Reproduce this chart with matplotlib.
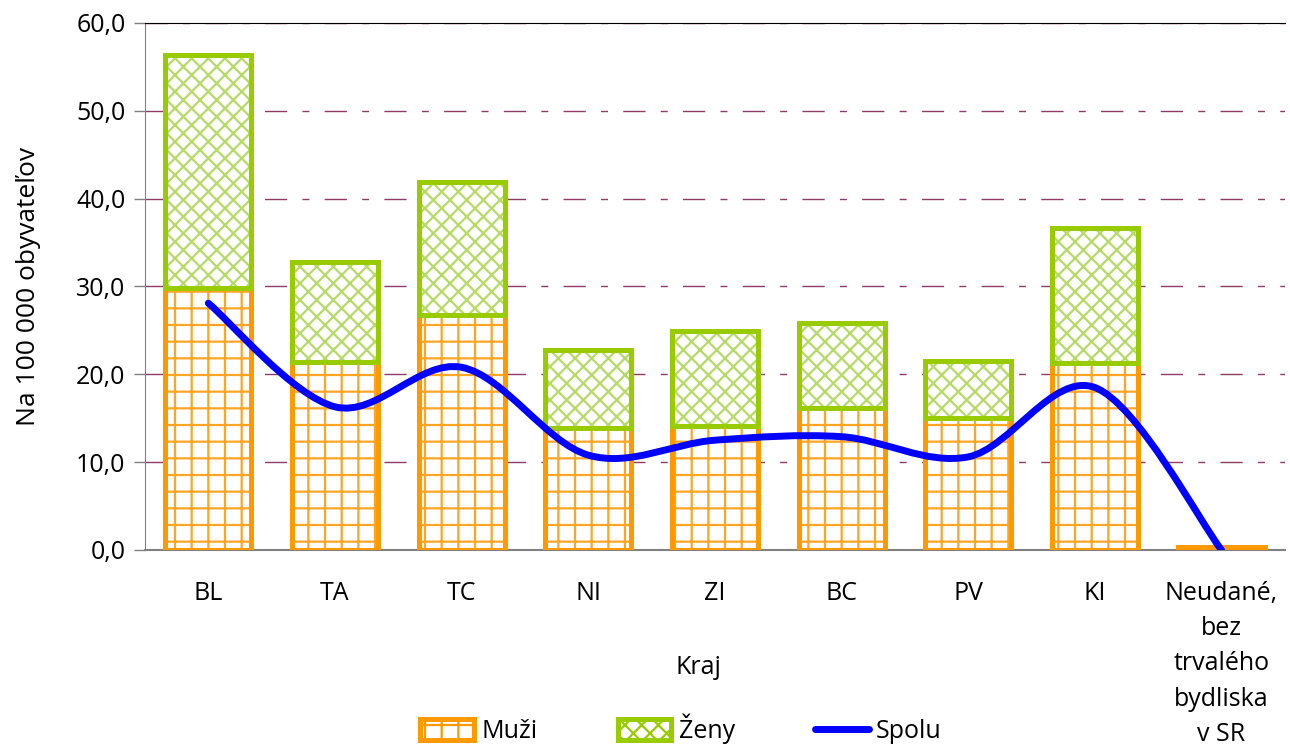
import numpy as np
import matplotlib
matplotlib.use("Agg")
import matplotlib.pyplot as plt
from matplotlib.path import Path
from matplotlib.patches import PathPatch, Patch
from matplotlib.lines import Line2D

plt.rcParams['font.family'] = ['Open Sans', 'DejaVu Sans']
plt.rcParams['hatch.linewidth'] = 1.6

# data
kraje = ["BL", "TA", "TC", "NI", "ZI", "BC", "PV", "KI",
         "Neudané,\nbez\ntrvalého\nbydliska\nv SR"]
muzi = [29.8, 21.4, 26.8, 13.9, 14.1, 16.2, 15.0, 21.3, 0.3]
zeny = [26.6, 11.4, 15.1, 8.9, 10.8, 9.6, 6.5, 15.4, 0.0]
spolu = [28.1, 16.3, 20.8, 10.8, 12.5, 12.9, 10.6, 18.5, 0.0]

ORANGE = "#FF9900"
ORANGE_H = "#FFA526"
GREEN = "#99CC00"
GREEN_H = "#B5DA66"
BLUE = "#0000FF"
GRID = "#8E3B66"
FS = 18

fig = plt.figure(figsize=(12.9, 7.49), dpi=100)
ax = fig.add_axes([0.1124, 0.2657, 0.8836, 0.7036])

x = np.arange(len(kraje))
w = 0.68

# hatch layer, then outline layer on top
ax.bar(x, muzi, w, color="white", edgecolor=ORANGE_H, hatch="+", linewidth=0, zorder=2)
ax.bar(x, zeny, w, bottom=muzi, color="white", edgecolor=GREEN_H, hatch="xx", linewidth=0, zorder=2)
ax.bar(x, muzi, w, fill=False, edgecolor=ORANGE, linewidth=3.6, zorder=3)
ax.bar([i for i in x if zeny[i] > 0], [z for z in zeny if z > 0], w,
       bottom=[m for m, z in zip(muzi, zeny) if z > 0],
       fill=False, edgecolor=GREEN, linewidth=3.6, zorder=3)

# smoothed line (Catmull-Rom as cubic bezier segments)
pts = np.column_stack([x, spolu]).astype(float)
verts = [tuple(pts[0])]
codes = [Path.MOVETO]
for i in range(len(pts) - 1):
    p0 = pts[i - 1] if i > 0 else pts[i]
    p1 = pts[i]
    p2 = pts[i + 1]
    p3 = pts[i + 2] if i + 2 < len(pts) else pts[i + 1]
    c1 = p1 + (p2 - p0) / 6.0
    c2 = p2 - (p3 - p1) / 6.0
    verts += [tuple(c1), tuple(c2), tuple(p2)]
    codes += [Path.CURVE4] * 3
ax.add_patch(PathPatch(Path(verts, codes), fill=False, edgecolor=BLUE,
                       linewidth=5, capstyle="round", joinstyle="round", zorder=4))

ax.set_xlim(-0.5, len(kraje) - 0.5)
ax.set_ylim(0, 60)
ax.set_yticks(np.arange(0, 61, 10))
ax.set_yticklabels([f"{v:.1f}".replace(".", ",") for v in np.arange(0, 61, 10)], fontsize=FS)
ax.set_xticks(x)
ax.set_xticklabels(kraje, fontsize=FS, va="top", linespacing=1.55)
ax.tick_params(axis="x", length=0, pad=22)
ax.tick_params(axis="y", length=8, color="#808080", width=1, pad=6)

ax.yaxis.grid(True, color=GRID, linewidth=1, linestyle=(0, (16, 11, 5, 11)))
ax.set_axisbelow(True)

ax.spines["right"].set_visible(False)
ax.spines["top"].set_color("black")
ax.spines["left"].set_color("#808080")
ax.spines["bottom"].set_color("#808080")
ax.spines["bottom"].set_linewidth(1.5)

ax.set_ylabel("Na 100 000 obyvateľov", fontsize=19, va="center")
ax.yaxis.set_label_coords(-0.1026, 0.5)
fig.text(698 / 1290, 1 - 668 / 749, "Kraj", fontsize=FS, ha="center", va="center")

handles = [
    Patch(facecolor="white", edgecolor=ORANGE, hatch="+", linewidth=3.6),
    Patch(facecolor="white", edgecolor=GREEN, hatch="xx", linewidth=3.6),
    Line2D([0], [0], color=BLUE, linewidth=5, solid_capstyle="round"),
]
fig.legend(handles, ["Muži", "Ženy", "Spolu"], loc="center", ncol=3,
           bbox_to_anchor=(681 / 1290, 1 - 729 / 749), frameon=False,
           fontsize=FS, handlelength=2.15, handleheight=0.9, handletextpad=0.3,
           columnspacing=3.2, borderpad=0.1)

fig.savefig("out.png", dpi=100)
